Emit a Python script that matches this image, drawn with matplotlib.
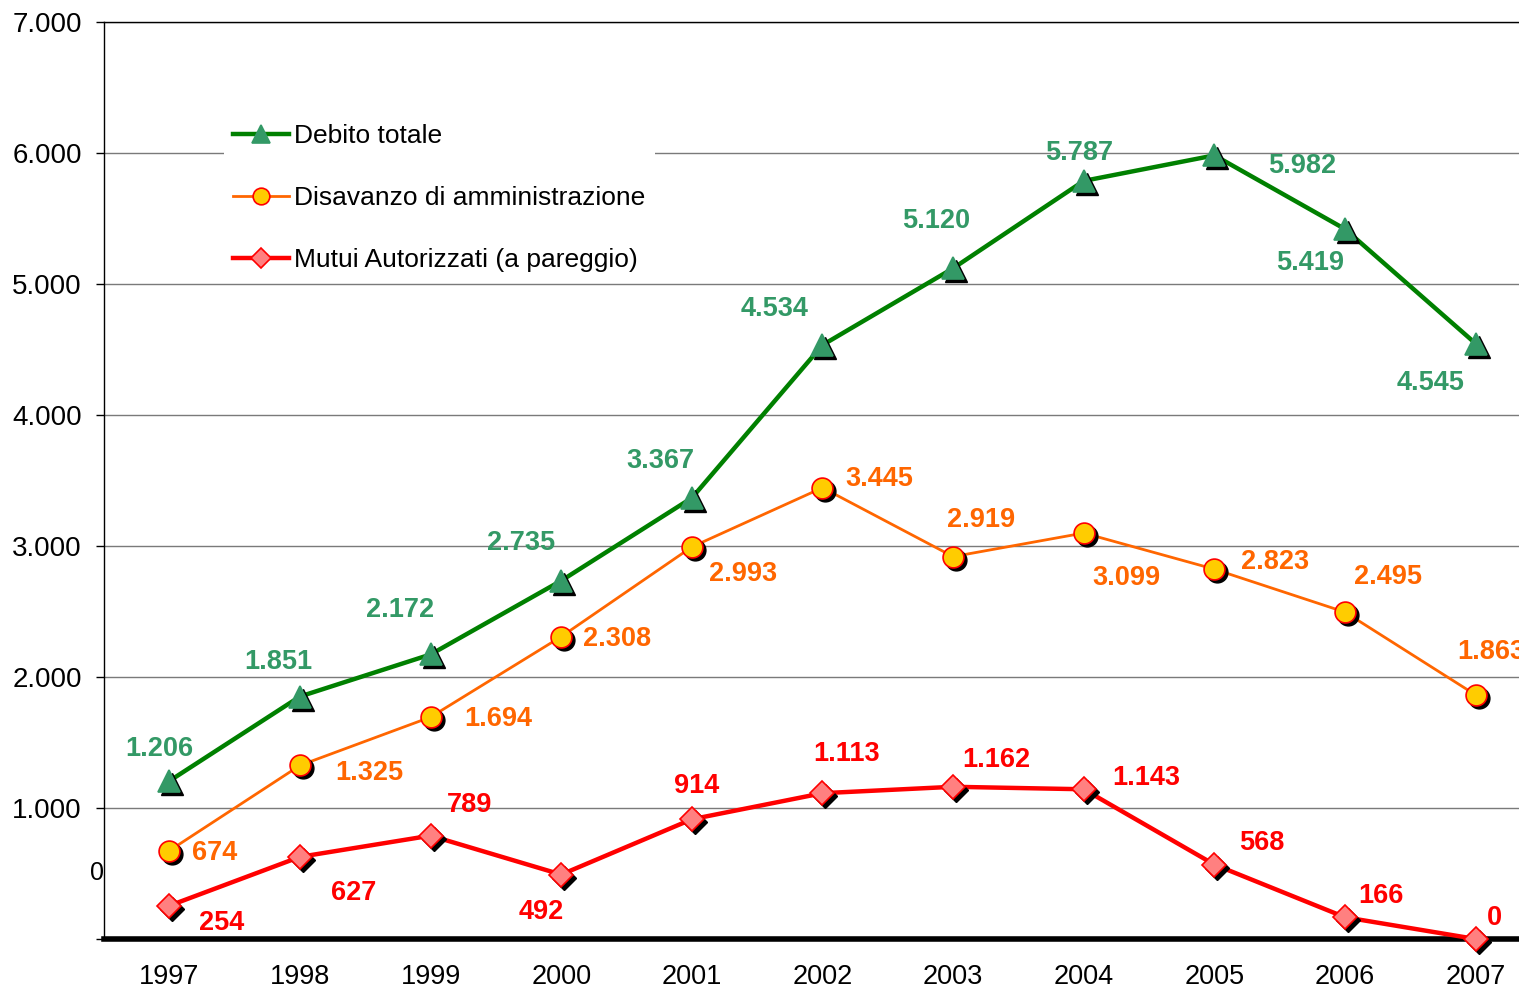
import matplotlib
matplotlib.use("Agg")
import matplotlib.pyplot as plt
from matplotlib.transforms import offset_copy

plt.rcParams['font.family'] = ['Liberation Sans', 'DejaVu Sans']

years = [1997, 1998, 1999, 2000, 2001, 2002, 2003, 2004, 2005, 2006, 2007]
debito = [1206, 1851, 2172, 2735, 3367, 4534, 5120, 5787, 5982, 5419, 4545]
disavanzo = [674, 1325, 1694, 2308, 2993, 3445, 2919, 3099, 2823, 2495, 1863]
mutui = [254, 627, 789, 492, 914, 1113, 1162, 1143, 568, 166, 0]

yticks = [0, 1000, 2000, 3000, 4000, 5000, 6000, 7000]
ytick_labels = ["", "1.000", "2.000", "3.000", "4.000", "5.000", "6.000", "7.000"]

# label offsets in pixels (dx, dy) relative to point
off_debito = [(-10, 32), (-22, 35), (-31, 44), (-40, 38), (-31, 37), (-48, 36),
              (-17, 47), (-5, 28), (88, -11), (-35, -34), (-45, -39)]
off_disav = [(45, -2), (69, -8), (68, -2), (56, -2), (51, -27), (57, 9),
             (28, 37), (43, -45), (61, 7), (43, 35), (16, 43)]
off_mutui = [(52, -17), (54, -36), (39, 31), (-20, -37), (5, 33), (24, 39),
             (43, 27), (62, 11), (47, 22), (36, 21), (19, 21)]

def fmt(v):
    return f"{v:,}".replace(",", ".")

W, H = 1519, 991
fig = plt.figure(figsize=(W / 100, H / 100), dpi=100)
ax = fig.add_axes([104 / W, (H - 939) / H, (1541 - 104) / W, (939 - 22) / H])
ax.set_xlim(1996.5, 2007.5)
ax.set_ylim(0, 7000)

ax.set_yticks(yticks)
ax.set_yticklabels(ytick_labels, fontsize=20)
ax.set_xticks(years)
ax.set_xticklabels([str(y) for y in years], fontsize=19.5)
ax.tick_params(axis='y', direction='out', length=6, width=1, pad=10, colors='black')
ax.tick_params(axis='x', length=0, pad=18)
ax.yaxis.grid(True, color='#7a7a7a', lw=1)
ax.set_axisbelow(True)

ax.spines['right'].set_visible(False)
ax.spines['left'].set_linewidth(1)
ax.spines['top'].set_linewidth(1)
ax.spines['bottom'].set_linewidth(4)
ax.spines['bottom'].set_zorder(3)

shadow = offset_copy(ax.transData, fig=fig, x=3, y=-3, units='dots')

series = [
    (debito, 'Debito totale', '#008000', 3.2, '^', 16, '#339966', '#339966', '#339966', off_debito),
    (disavanzo, 'Disavanzo di amministrazione', '#FF6600', 2.0, 'o', 15, '#FFCC00', '#FF0000', '#FF6600', off_disav),
    (mutui, 'Mutui Autorizzati (a pareggio)', '#FF0000', 3.2, 'D', 12.5, '#FF8080', '#FF0000', '#FF0000', off_mutui),
]

handles = []
for vals, name, lc, lw, mk, ms, mfc, mec, tc, offs in series:
    ax.plot(years, vals, color=lc, lw=lw, zorder=4, clip_on=False)
    ax.plot(years, vals, ls='none', marker=mk, ms=ms, mfc='black', mec='black',
            mew=1, transform=shadow, zorder=5, clip_on=False)
    ax.plot(years, vals, ls='none', marker=mk, ms=ms, mfc=mfc, mec=mec,
            mew=1.2, zorder=6, clip_on=False)
    h, = ax.plot([], [], color=lc, lw=lw, marker=mk, ms=ms * 0.8, mfc=mfc, mec=mec, mew=1.2)
    handles.append((h, name))
    for x, v, (dx, dy) in zip(years, vals, offs):
        ax.annotate(fmt(v), xy=(x, v), xytext=(dx, dy), textcoords='offset pixels',
                    ha='center', va='center', fontsize=19.5, fontweight='bold',
                    color=tc, zorder=7, annotation_clip=False)

# odd "0" label at 500 level
ax.annotate("0", xy=(0, 500), xycoords=('axes fraction', 'data'), xytext=(-7, 0),
            textcoords='offset pixels', ha='center', va='center', fontsize=18)

leg = ax.legend([h for h, _ in handles], [n for _, n in handles],
                loc='upper left', bbox_to_anchor=(224 / W, 1 - 115 / H),
                bbox_transform=fig.transFigure, borderaxespad=0,
                fontsize=19, frameon=True, fancybox=False, numpoints=1,
                handlelength=2.1, handletextpad=0.22, labelspacing=1.44,
                borderpad=0.35)
leg.get_frame().set_facecolor('white')
leg.get_frame().set_edgecolor('none')
leg.get_frame().set_alpha(1)
leg.set_zorder(3.5)

fig.savefig("out.png", dpi=100)
